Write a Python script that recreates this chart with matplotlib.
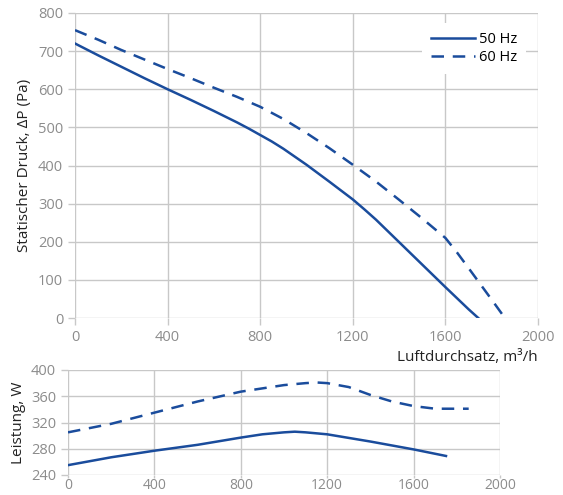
import matplotlib.pyplot as plt

plt.rcParams['font.family'] = ['Open Sans', 'DejaVu Sans']

# Pressure curves (top)
q50 = [0, 100, 200, 300, 400, 500, 600, 700, 750, 800, 850, 900, 1000, 1100, 1150, 1200, 1250, 1300, 1400, 1500, 1600, 1700, 1742]
p50 = [720, 689, 659, 629, 600, 572, 543, 513, 497, 480, 463, 444, 402, 357, 334, 311, 285, 258, 199, 140, 81, 23, 0]
q60 = [0, 100, 200, 300, 400, 500, 600, 700, 800, 900, 1000, 1100, 1200, 1300, 1400, 1500, 1600, 1650, 1700, 1800, 1857]
p60 = [755, 730, 703, 678, 653, 629, 604, 580, 554, 522, 485, 445, 402, 358, 310, 261, 210, 172, 131, 48, 0]

# Power curves (bottom)
w50_q = [0, 200, 400, 600, 800, 900, 1000, 1050, 1100, 1200, 1400, 1600, 1750]
w50 = [255, 267, 277, 286, 297, 302, 305, 306, 305, 302, 291, 279, 269]
w60_q = [0, 200, 400, 600, 800, 1000, 1100, 1150, 1200, 1300, 1400, 1500, 1600, 1700, 1855]
w60 = [305, 318, 335, 352, 367, 377, 380, 381, 380, 374, 362, 352, 345, 341, 341]

blue = '#1a4c9c'
grid = '#c8c8c8'
tick_col = '#8c8c8c'

fig = plt.figure(figsize=(5.63, 4.95), dpi=100)
ax1 = fig.add_axes([75 / 563, 1 - 318 / 495, (538 - 75) / 563, (318 - 13) / 495])
ax2 = fig.add_axes([68 / 563, 1 - 475 / 495, (500 - 68) / 563, (475 - 370) / 495])

ax1.plot(q50, p50, color=blue, lw=1.8, label='50 Hz')
ax1.plot(q60, p60, color=blue, lw=1.8, ls=(0, (5, 3.5)), label='60 Hz')
ax2.plot(w50_q, w50, color=blue, lw=1.8)
ax2.plot(w60_q, w60, color=blue, lw=1.8, ls=(0, (5, 3.5)))

ax1.set_xlim(0, 2000)
ax1.set_ylim(0, 800)
ax1.set_xticks(range(0, 2001, 400))
ax1.set_yticks(range(0, 801, 100))
ax2.set_xlim(0, 2000)
ax2.set_ylim(240, 400)
ax2.set_xticks(range(0, 2001, 400))
ax2.set_yticks(range(240, 401, 40))

for ax in (ax1, ax2):
    ax.grid(True, color=grid, lw=1)
    ax.set_axisbelow(True)
    for s in ax.spines.values():
        s.set_visible(False)
    ax.tick_params(colors=grid, labelcolor=tick_col, labelsize=10.5, length=5, width=1)
ax2.tick_params(axis='x', length=2, pad=0, labelsize=10)

ax1.set_ylabel('Statischer Druck, ΔP (Pa)', fontsize=11, color='#222222')
ax1.set_xlabel('Luftdurchsatz, m³/h', fontsize=11, color='#222222', loc='right', labelpad=4)
ax2.set_ylabel('Leistung, W', fontsize=11, color='#222222')

leg = ax1.legend(loc='upper right', bbox_to_anchor=(0.99, 0.99), frameon=True, fontsize=10.5,
                 handlelength=3, handletextpad=0.3, labelspacing=0.2, borderpad=0.6)
leg.get_frame().set_edgecolor('none')
leg.get_frame().set_facecolor('white')
leg.get_frame().set_alpha(1)

fig.savefig('out.png', dpi=100)
